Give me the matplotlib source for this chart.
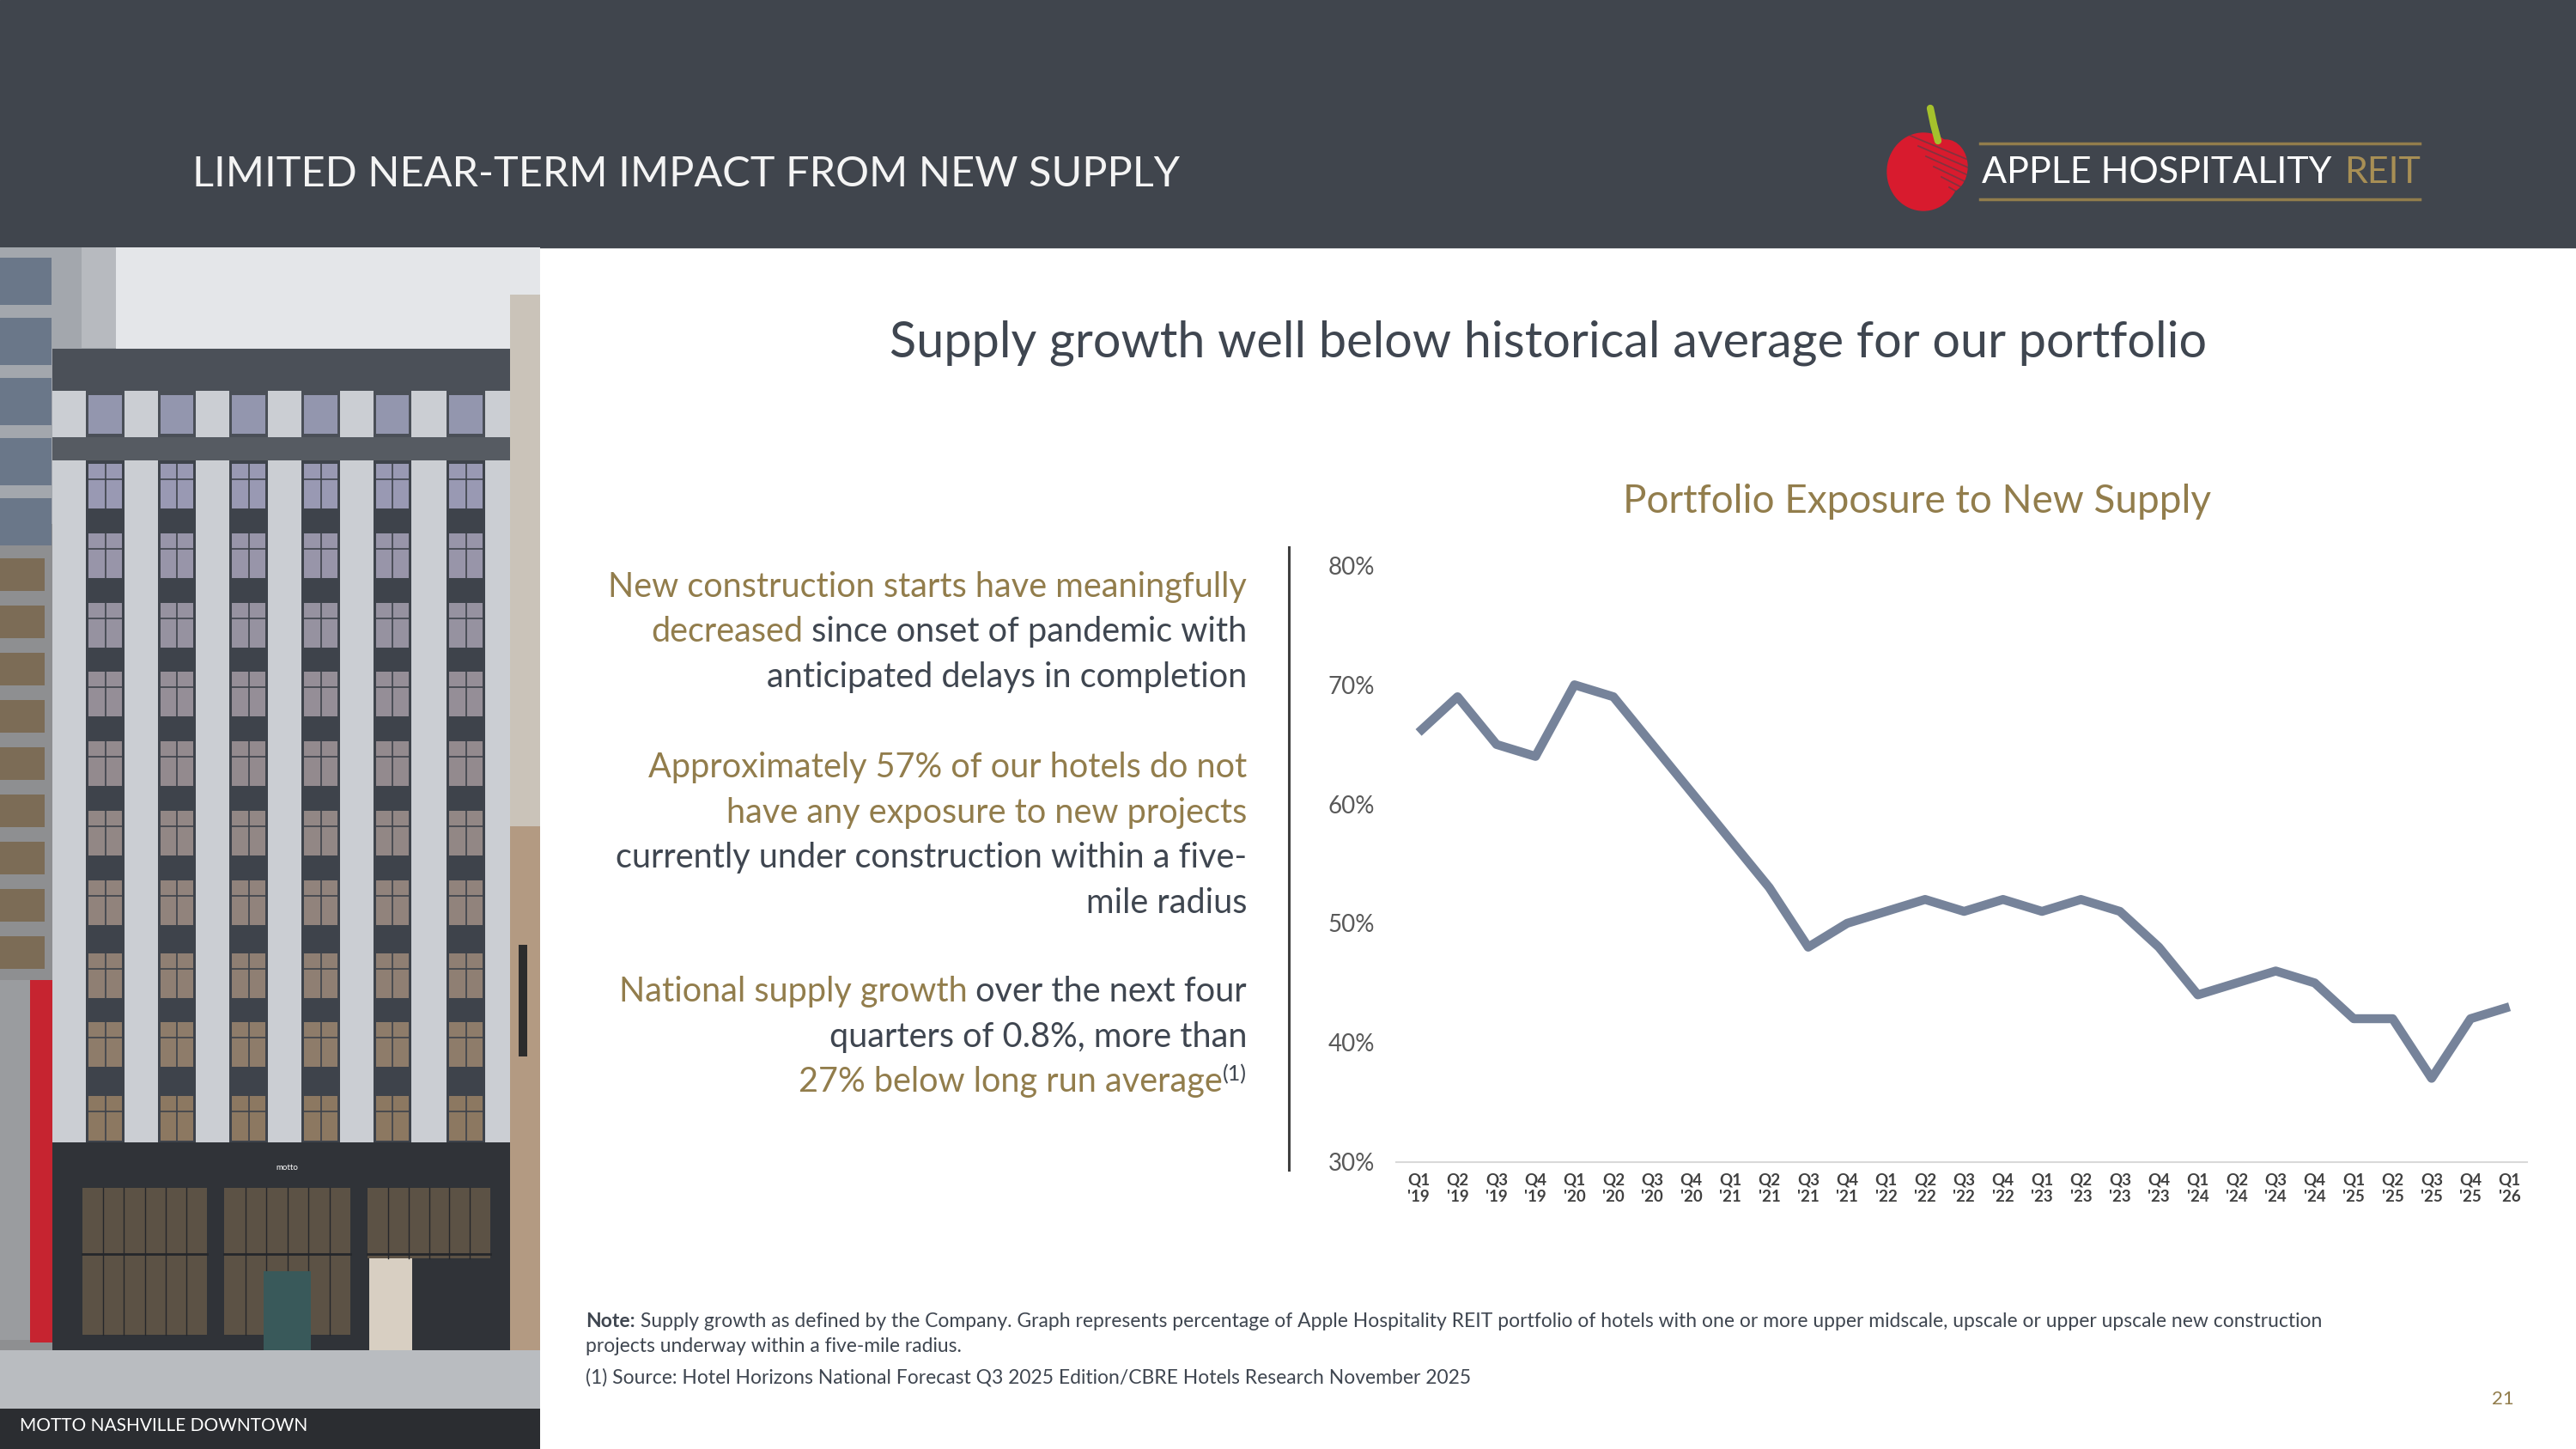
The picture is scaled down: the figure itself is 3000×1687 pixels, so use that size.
import numpy as np
import matplotlib
matplotlib.use("Agg")
import matplotlib.pyplot as plt
import matplotlib.patches as mpatches

# data
quarters = ["Q1\n'19", "Q2\n'19", "Q3\n'19", "Q4\n'19",
            "Q1\n'20", "Q2\n'20", "Q3\n'20", "Q4\n'20",
            "Q1\n'21", "Q2\n'21", "Q3\n'21", "Q4\n'21",
            "Q1\n'22", "Q2\n'22", "Q3\n'22", "Q4\n'22",
            "Q1\n'23", "Q2\n'23", "Q3\n'23", "Q4\n'23",
            "Q1\n'24", "Q2\n'24", "Q3\n'24", "Q4\n'24",
            "Q1\n'25", "Q2\n'25", "Q3\n'25", "Q4\n'25",
            "Q1\n'26"]
exposure = [66, 69, 65, 64, 70, 69, 65, 61, 57, 53, 48, 50, 51, 52, 51, 52,
            51, 52, 51, 48, 44, 45, 46, 45, 42, 42, 37, 42, 43]
y_ticks = [30, 40, 50, 60, 70, 80]

# colours
header_bg = "#40454D"
gold = "#927D4C"
dark_txt = "#3F4650"
line_col = "#76839A"

plt.rcParams['font.family'] = ['Lato', 'DejaVu Sans']

W, H = 3000, 1687
fig = plt.figure(figsize=(30, 16.87), dpi=100)
fig.patch.set_facecolor("white")


def fx(x):
    return x / W


def fy(y):
    return 1 - y / H


# header band
fig.patches.append(mpatches.Rectangle((0, fy(288)), 1, 288 / H, transform=fig.transFigure,
                                      color=header_bg, zorder=-10))
fig.text(fx(224), fy(217), "LIMITED NEAR-TERM IMPACT FROM NEW SUPPLY", color="#F4F4F4",
         fontsize=35, va="baseline", ha="left")

# logo
logo = fig.add_axes([fx(2180), fy(260), 660 / W, 150 / H])
logo.set_xlim(2180, 2840)
logo.set_ylim(260, 110)
logo.axis("off")
logo.patch.set_alpha(0)
logo.add_patch(mpatches.Ellipse((2240, 200), 84, 90, color="#D81B2E"))
logo.add_patch(mpatches.Ellipse((2266, 194), 50, 62, color="#D81B2E"))
for k in range(7):
    logo.plot([2225 + k * 9, 2292], [158 + k * 12, 186 + k * 9], color=header_bg, lw=1.3, alpha=0.55)
logo.plot([2248, 2252, 2257], [126, 145, 164], color="#A5C12C", lw=6, solid_capstyle="round")
logo.plot([2306, 2818], [167, 167], color=gold, lw=2.5)
logo.plot([2306, 2818], [232, 232], color=gold, lw=2.5)
fig.text(fx(2308), fy(213), "APPLE HOSPITALITY", color="white", fontsize=31, va="baseline")
fig.text(fx(2819), fy(213), "REIT", color="#A88F55", fontsize=31, va="baseline", ha="right")

# photo (stylised building)
ph = fig.add_axes([0, 0, 629 / W, (H - 288) / H])
ph.set_xlim(0, 629)
ph.set_ylim(1687, 288)
ph.axis("off")


def box(ax, x0, y0, x1, y1, c, z=1):
    ax.add_patch(mpatches.Rectangle((x0, y0), x1 - x0, y1 - y0, color=c, zorder=z, lw=0))


box(ph, 0, 288, 629, 1687, "#7E848C")
box(ph, 135, 288, 629, 406, "#E4E6E9")
box(ph, 0, 288, 135, 610, "#A3A7AD")
box(ph, 95, 288, 135, 405, "#B7BABF")
for yy in range(300, 600, 70):
    box(ph, 0, yy, 60, yy + 55, "#6A7789", 2)
box(ph, 0, 610, 61, 1580, "#8E8F91")
for yy in range(650, 1120, 55):
    box(ph, 0, yy, 52, yy + 38, "#7C6C56", 2)
box(ph, 0, 1141, 40, 1560, "#9A9C9F", 2)
box(ph, 35, 1141, 61, 1563, "#C62430", 2)
box(ph, 594, 343, 629, 962, "#CAC3B9")
box(ph, 594, 962, 629, 1572, "#B39A82")
box(ph, 604, 1100, 614, 1230, "#2C2C2C", 2)
# main facade
box(ph, 61, 406, 594, 1572, "#CBCED3", 2)
box(ph, 61, 406, 594, 455, "#4B5058", 3)
box(ph, 61, 509, 594, 536, "#565B62", 3)
strips = [(100, 145), (184, 228), (267, 312), (351, 396), (435, 479), (520, 565)]
row_tops = [290, 380, 470, 560, 650, 740, 830, 925, 1015, 1110]
cool = np.array([0.60, 0.60, 0.70])
warm = np.array([0.55, 0.47, 0.38])
for x0, x1 in strips:
    box(ph, x0, 455, x1, 509, "#4A4F57", 3)
    box(ph, x0 + 3, 460, x1 - 3, 505, "#9396AE", 4)
    box(ph, x0, 536, x1, 1330, "#3E434B", 3)
    for i, r in enumerate(row_tops):
        t = i / (len(row_tops) - 1)
        c = cool * (1 - t) + warm * t
        y0 = 280 + 0.897 * r
        box(ph, x0 + 3, y0, x1 - 3, y0 + 52, tuple(c), 4)
        ph.plot([(x0 + x1) / 2] * 2, [y0, y0 + 52], color="#3E434B", lw=1.2, zorder=5)
        ph.plot([x0 + 3, x1 - 3], [y0 + 18, y0 + 18], color="#3E434B", lw=1.2, zorder=5)
# ground floor
box(ph, 61, 1330, 594, 1572, "#303338", 3)
for gx0, gx1, gy1 in [(96, 241, 1554), (261, 408, 1554), (428, 571, 1465)]:
    box(ph, gx0, 1383, gx1, gy1, "#5C5245", 4)
    for gx in np.linspace(gx0, gx1, 7)[1:-1]:
        ph.plot([gx, gx], [1383, gy1], color="#25272B", lw=1, zorder=5)
    ph.plot([gx0, gx1], [1460, 1460], color="#25272B", lw=2, zorder=5)
box(ph, 430, 1465, 480, 1572, "#D8CFC2", 4)
box(ph, 307, 1480, 362, 1572, "#39595A", 5)
ph.text(334, 1360, "motto", color="white", fontsize=7, ha="center", va="center", zorder=6)
box(ph, 0, 1572, 629, 1640, "#B9BCC0", 6)
box(ph, 0, 1640, 629, 1687, "#2B2D31", 6)
ph.text(23, 1666, "MOTTO NASHVILLE DOWNTOWN", color="white", fontsize=15, va="baseline", zorder=7)

# subtitle and chart title
fig.text(fx(1803), fy(415), "Supply growth well below historical average for our portfolio",
         color=dark_txt, fontsize=41.5, ha="center", va="baseline")
fig.text(fx(2233), fy(597), "Portfolio Exposure to New Supply", color=gold, fontsize=33,
         ha="center", va="baseline")

# left bullet text, right aligned with mixed colours
renderer = fig.canvas.get_renderer()
x_right = fx(1452)
fs_body = 28.5


def rline(y, parts):
    x = x_right
    for txt, col, size, dy in reversed(parts):
        t = fig.text(x, fy(y + dy), txt, color=col, fontsize=size, ha="right", va="baseline")
        bb = t.get_window_extent(renderer)
        x = fig.transFigure.inverted().transform((bb.x0, bb.y0))[0]


rline(695, [("New construction starts have meaningfully", gold, fs_body, 0)])
rline(747, [("decreased", gold, fs_body, 0), (" since onset of pandemic with", dark_txt, fs_body, 0)])
rline(800, [("anticipated delays in completion", dark_txt, fs_body, 0)])
rline(905, [("Approximately 57% of our hotels do not", gold, fs_body, 0)])
rline(958, [("have any exposure to new projects", gold, fs_body, 0)])
rline(1010, [("currently under construction within a five-", dark_txt, fs_body, 0)])
rline(1063, [("mile radius", dark_txt, fs_body, 0)])
rline(1166, [("National supply growth", gold, fs_body, 0), (" over the next four", dark_txt, fs_body, 0)])
rline(1219, [("quarters of 0.8%, more than", dark_txt, fs_body, 0)])
rline(1271, [("27% below long run average", gold, fs_body, 0), ("(1)", dark_txt, 18, -13)])

# separator
fig.add_artist(plt.Line2D([fx(1501), fx(1501)], [fy(637), fy(1362)], color="#404040", lw=2.2))

# chart
ax = fig.add_axes([fx(1626), fy(1352.6), (2943 - 1626) / W, (1352.6 - 658.5) / H])
x = np.arange(len(exposure))
ax.plot(x, exposure, color=line_col, lw=7.5, solid_joinstyle="round", solid_capstyle="butt")
ax.set_xlim(-0.575, 28.45)
ax.set_ylim(30, 80)
ax.set_yticks(y_ticks)
ax.set_yticklabels([f"{v}%" for v in y_ticks], fontsize=20, color="#595959")
ax.set_xticks(x)
ax.set_xticklabels(quarters, fontsize=13.5, fontweight="bold", color="#404040", linespacing=1.2)
ax.tick_params(axis="both", length=0)
ax.tick_params(axis="y", pad=18)
ax.tick_params(axis="x", pad=9)
for s in ["top", "right", "left"]:
    ax.spines[s].set_visible(False)
ax.spines["bottom"].set_color("#D9D9D9")
ax.spines["bottom"].set_linewidth(1.5)
ax.patch.set_alpha(0)

# notes
note_fs = 16.5
t = fig.text(fx(682), fy(1545), "Note:", color=dark_txt, fontsize=note_fs, fontweight="bold", va="baseline")
bb = t.get_window_extent(renderer)
fig.text(fig.transFigure.inverted().transform((bb.x1, bb.y0))[0], fy(1545),
         " Supply growth as defined by the Company. Graph represents percentage of Apple Hospitality REIT "
         "portfolio of hotels with one or more upper midscale, upscale or upper upscale new construction",
         color=dark_txt, fontsize=note_fs, va="baseline")
fig.text(fx(682), fy(1574), "projects underway within a five-mile radius.", color=dark_txt,
         fontsize=note_fs, va="baseline")
fig.text(fx(682), fy(1610), "(1) Source: Hotel Horizons National Forecast Q3 2025 Edition/CBRE Hotels Research November 2025",
         color=dark_txt, fontsize=note_fs, va="baseline")
fig.text(fx(2928), fy(1635), "21", color=gold, fontsize=16, ha="right", va="baseline")

fig.savefig("out.png", dpi=100)
